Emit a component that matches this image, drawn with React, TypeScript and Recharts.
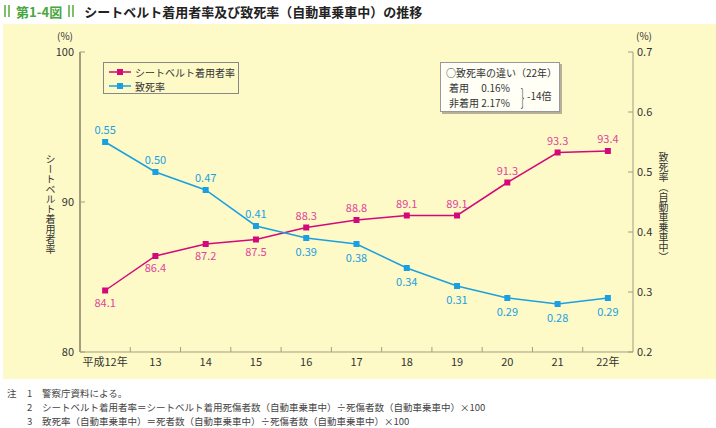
import React from 'react';
import { ComposedChart, Line, XAxis, YAxis, LabelList } from 'recharts';

const YEARS = ['平成12年', '13', '14', '15', '16', '17', '18', '19', '20', '21', '22年'];
const BELT_RATE = [84.1, 86.4, 87.2, 87.5, 88.3, 88.8, 89.1, 89.1, 91.3, 93.3, 93.4];
const FATALITY = [0.55, 0.5, 0.47, 0.41, 0.39, 0.38, 0.34, 0.31, 0.29, 0.28, 0.29];
const LEFT_TICKS = [80, 90, 100];
const RIGHT_TICKS = [0.2, 0.3, 0.4, 0.5, 0.6, 0.7];
const SERIES_NAMES = ['シートベルト着用者率', '致死率'];
const NOTES = [
  ['注', '1', '警察庁資料による。'],
  ['', '2', 'シートベルト着用者率＝シートベルト着用死傷者数（自動車乗車中）÷死傷者数（自動車乗車中）×100'],
  ['', '3', '致死率（自動車乗車中）＝死者数（自動車乗車中）÷死傷者数（自動車乗車中）×100'],
];

const data = YEARS.map((year, i) => ({ year, belt: BELT_RATE[i], fatal: FATALITY[i] }));

const PINK = '#d4087a';
const PINK_TXT = '#e0449a';
const BLUE = '#1aa0e0';
const AXIS = '#a59d80';
const FONT = '"Noto Sans CJK JP", "Noto Sans", sans-serif';

const Square = (color: string) => (p: any) => (
  <rect key={`d-${p.index}`} x={p.cx - 3} y={p.cy - 3} width={6} height={6} fill={color} />
);

const BeltLabel = (p: any) => {
  const below = p.index < 4;
  return (
    <text x={p.x} y={below ? p.y + 16 : p.y - 8} textAnchor="middle" fill={PINK_TXT} fontSize={11}>
      {Number(p.value).toFixed(1)}
    </text>
  );
};

const FatalLabel = (p: any) => {
  const below = p.index >= 4;
  return (
    <text x={p.x} y={below ? p.y + 18 : p.y - 8} textAnchor="middle" fill={BLUE} fontSize={11}>
      {Number(p.value).toFixed(2)}
    </text>
  );
};

const XTick = (p: any) => {
  const off = p.payload.offset ?? 25;
  return (
    <g>
      {p.index > 0 && <line x1={p.x - off} x2={p.x - off} y1={p.y - 5} y2={p.y} stroke={AXIS} />}
      <text x={p.x} y={p.y + 14} textAnchor="middle" fill="#333" fontSize={11}>
        {p.payload.value}
      </text>
    </g>
  );
};

const LeftTick = (p: any) => (
  <g>
    <line x1={p.x + 4} x2={p.x + 9} y1={p.y} y2={p.y} stroke={AXIS} />
    <text x={p.x - 2} y={p.y + 4} textAnchor="end" fill="#333" fontSize={11}>{p.payload.value}</text>
  </g>
);

const RightTick = (p: any) => (
  <g>
    <line x1={p.x - 9} x2={p.x - 4} y1={p.y} y2={p.y} stroke={AXIS} />
    <text x={p.x} y={p.y + 4} textAnchor="start" fill="#333" fontSize={11}>{p.payload.value.toFixed(1)}</text>
  </g>
);

const vText: React.CSSProperties = {
  position: 'absolute',
  writingMode: 'vertical-rl',
  fontSize: 10,
  color: '#333',
  letterSpacing: 0,
  lineHeight: 1,
};

export default function App() {
  return (
    <div style={{ position: 'fixed', left: 0, top: 0, width: 716, height: 428, background: '#fff', fontFamily: FONT, overflow: 'hidden' }}>
      {/* title */}
      <div style={{ position: 'absolute', left: 4, top: 2, height: 18, display: 'flex', alignItems: 'center', fontSize: 13, fontWeight: 700 }}>
        <span style={{ display: 'inline-block', width: 2, height: 12, background: '#7cc06a', marginRight: 2 }} />
        <span style={{ display: 'inline-block', width: 2, height: 12, background: '#7cc06a', marginRight: 6 }} />
        <span style={{ color: '#4aa640' }}>第1-4図</span>
        <span style={{ display: 'inline-block', width: 2, height: 12, background: '#7cc06a', marginLeft: 6, marginRight: 2 }} />
        <span style={{ display: 'inline-block', width: 2, height: 12, background: '#7cc06a', marginRight: 10 }} />
        <span style={{ color: '#222' }}>シートベルト着用者率及び致死率（自動車乗車中）の推移</span>
      </div>

      {/* panel */}
      <div style={{ position: 'absolute', left: 3, top: 24, width: 713, height: 355, background: '#fefac8' }} />

      <div style={{ position: 'absolute', left: 0, top: 0 }}>
        <ComposedChart width={716} height={428} data={data} margin={{ top: 52, right: 43, bottom: 46, left: 40 }}>
          <XAxis
            dataKey="year"
            scale="band"
            stroke={AXIS}
            tickLine={false}
            tickSize={0}
            tickMargin={0}
            height={30}
            interval={0}
            tick={<XTick />}
          />
          <YAxis
            yAxisId="left"
            domain={[80, 100]}
            ticks={LEFT_TICKS}
            stroke={AXIS}
            strokeWidth={2}
            tickLine={false}
            tickSize={0}
            tickMargin={4}
            width={40}
            tick={<LeftTick />}
          />
          <YAxis
            yAxisId="right"
            orientation="right"
            domain={[0.2, 0.7]}
            ticks={RIGHT_TICKS}
            stroke={AXIS}
            tickLine={false}
            tickSize={0}
            tickMargin={4}
            width={40}
            tick={<RightTick />}
          />
          <Line
            yAxisId="left"
            dataKey="belt"
            name={SERIES_NAMES[0]}
            stroke={PINK}
            strokeWidth={1.5}
            dot={Square(PINK)}
            isAnimationActive={false}
          >
            <LabelList dataKey="belt" content={<BeltLabel />} />
          </Line>
          <Line
            yAxisId="right"
            dataKey="fatal"
            name={SERIES_NAMES[1]}
            stroke={BLUE}
            strokeWidth={1.5}
            dot={Square(BLUE)}
            isAnimationActive={false}
          >
            <LabelList dataKey="fatal" content={<FatalLabel />} />
          </Line>
        </ComposedChart>
      </div>

      {/* unit labels */}
      <div style={{ position: 'absolute', left: 57, top: 31, fontSize: 10, lineHeight: '10px', color: '#333' }}>(%)</div>
      <div style={{ position: 'absolute', left: 636, top: 31, fontSize: 10, lineHeight: '10px', color: '#333' }}>(%)</div>
      <div style={{ ...vText, left: 45, top: 154 }}>シートベルト着用者率</div>
      <div style={{ ...vText, left: 658, top: 152 }}>致死率（自動車乗車中）</div>

      {/* legend */}
      <div style={{ position: 'absolute', left: 103, top: 62, width: 136, height: 32, border: '1px solid #888', fontSize: 10, lineHeight: '11px', color: '#333', padding: '2px 0 0 5px', boxSizing: 'border-box', whiteSpace: 'nowrap' }}>
        {[PINK, BLUE].map((c, i) => (
          <div key={i} style={{ display: 'flex', alignItems: 'center', height: 14 }}>
            <svg width={22} height={8} style={{ marginRight: 4 }}>
              <line x1={0} x2={22} y1={4} y2={4} stroke={c} strokeWidth={1.5} />
              <rect x={8} y={1} width={6} height={6} fill={c} />
            </svg>
            {SERIES_NAMES[i]}
          </div>
        ))}
      </div>

      {/* annotation */}
      <div style={{ position: 'absolute', left: 440, top: 62, width: 118, height: 48, background: '#fffff6', border: '1px solid #999', boxShadow: '2px 2px 0 #b5b09a', fontSize: 10, color: '#333', lineHeight: '11px' }}>
        <div style={{ position: 'absolute', left: 5, top: 4 }}>○致死率の違い（22年）</div>
        <div style={{ position: 'absolute', left: 8, top: 19 }}>着用　 0.16%</div>
        <div style={{ position: 'absolute', left: 8, top: 34 }}>非着用 2.17%</div>
        <div style={{ position: 'absolute', left: 78, top: 19, fontSize: 22, lineHeight: '26px', fontWeight: 200, transform: 'scaleX(0.5)' }}>{'}'}</div>
        <div style={{ position: 'absolute', left: 86, top: 27 }}>-14倍</div>
      </div>

      {/* notes */}
      {NOTES.map((n, i) => (
        <div key={i} style={{ position: 'absolute', top: 386 + i * 14, left: 0, fontSize: 9.5, color: '#444', fontFamily: '"Noto Sans CJK JP", serif' }}>
          <span style={{ position: 'absolute', left: 7 }}>{n[0]}</span>
          <span style={{ position: 'absolute', left: 27 }}>{n[1]}</span>
          <span style={{ position: 'absolute', left: 42, whiteSpace: 'nowrap' }}>{n[2]}</span>
        </div>
      ))}
    </div>
  );
}
